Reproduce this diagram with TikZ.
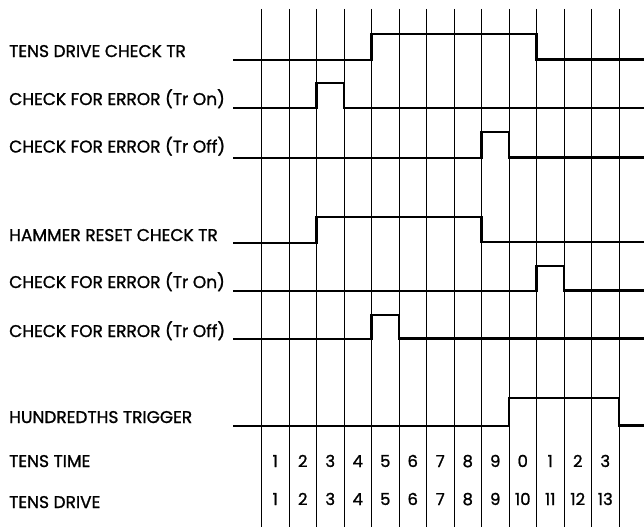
\documentclass[tikz,border=0pt]{standalone}
\usepackage{fontspec}
\setmainfont{Poppins}
\newfontfamily\lblfont{Poppins}[FakeBold=1.2]
\begin{document}
\begin{tikzpicture}[x=1pt,y=-1pt,
  gridline/.style={line width=0.9pt},
  sig/.style={line width=2.6pt, line join=miter},
  lbl/.style={anchor=base west, inner sep=0pt, font=\fontsize{17}{18}\lblfont},
  num/.style={anchor=base, inner sep=0pt, font=\fontsize{16.5}{18}\lblfont}]
\useasboundingbox (0,0) rectangle (644,527);
% grid
\foreach \k in {0,...,13} {
  \coordinate (t\k) at ({261.5+27.5*\k},9);
  \coordinate (b\k) at ({261.5+27.5*\k},527);
  \draw[gridline] (t\k) -- (b\k);
}
% labels
\node[lbl] (l1) at (9,57) {TENS DRIVE CHECK TR};
\node[lbl] (l2) at (9,105) {CHECK FOR ERROR (Tr On)};
\node[lbl] (l3) at (9,152.5) {CHECK FOR ERROR (Tr Off)};
\node[lbl] (l4) at (9,241) {HAMMER RESET CHECK TR};
\node[lbl] (l5) at (9,288) {CHECK FOR ERROR (Tr On)};
\node[lbl] (l6) at (9,337) {CHECK FOR ERROR (Tr Off)};
\node[lbl] (l7) at (9,423) {HUNDREDTHS TRIGGER};
\node[lbl] (l8) at (9,467) {TENS TIME};
\node[lbl] (l9) at (9,508) {TENS DRIVE};
% signals
\draw[sig] (233,60) -- (371.5,60) -- (371.5,34) -- (536.5,34) -- (536.5,59.5) -- (644,59.5);
\draw[sig] (233,108) -- (316.5,108) -- (316.5,83) -- (344,83) -- (344,108) -- (644,108);
\draw[sig] (233,158) -- (481.5,158) -- (481.5,132) -- (509,132) -- (509,157.5) -- (644,157.5);
\draw[sig] (233,243) -- (316.5,243) -- (316.5,217) -- (481.5,217) -- (481.5,242) -- (644,242);
\draw[sig] (233,291) -- (536.5,291) -- (536.5,266) -- (564,266) -- (564,290.5) -- (644,290.5);
\draw[sig] (233,339) -- (371.5,339) -- (371.5,315) -- (399,315) -- (399,338.5) -- (644,338.5);
\draw[sig] (233,426) -- (509,426) -- (509,398) -- (619,398) -- (619,425.5) -- (644,425.5);
% numbers
\foreach \n [count=\i from 0] in {1,2,3,4,5,6,7,8,9,0,1,2,3} {
  \node[num] (tt\i) at ({261.5+27.5*(\i+0.5)},467) {\n};
}
\foreach \n [count=\i from 0] in {1,2,3,4,5,6,7,8,9,10,11,12,13} {
  \node[num] (td\i) at ({261.5+27.5*(\i+0.5)},505) {\n};
}
\end{tikzpicture}
\end{document}
